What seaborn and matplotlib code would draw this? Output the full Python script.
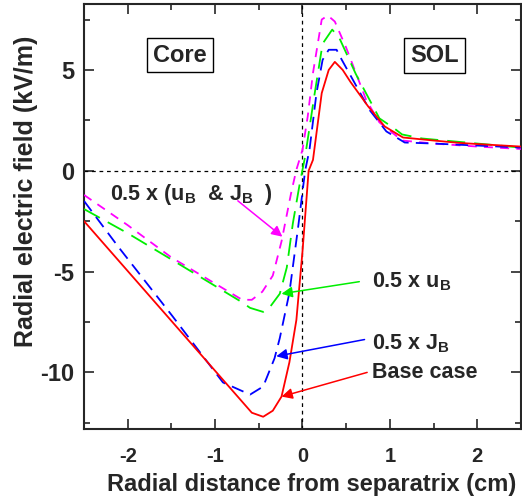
import matplotlib
matplotlib.use("Agg")
import matplotlib.pyplot as plt
import seaborn as sns
import pandas as pd
from matplotlib.ticker import MultipleLocator

# ---- data ----
base_x = [-2.5, -0.58, -0.45, -0.34, -0.24, -0.15, -0.07, 0.0, 0.07, 0.12, 0.22, 0.30, 0.37, 0.46, 0.55, 0.75, 0.94, 1.15, 1.5, 1.8, 2.1, 2.5]
base_y = [-2.5, -12.0, -12.2, -11.9, -11.2, -9.5, -7.4, -4.0, 0.0, 0.54, 3.85, 5.0, 5.4, 5.0, 4.4, 3.2, 2.2, 1.65, 1.5, 1.38, 1.3, 1.2]

jb_x = [-2.5, -2.11, -1.49, -0.91, -0.6, -0.45, -0.32, -0.26, -0.15, -0.05, 0.03, 0.08, 0.16, 0.23, 0.3, 0.39, 0.45, 0.77, 0.96, 1.17, 1.5, 2.0, 2.5]
jb_y = [-1.5, -3.76, -7.2, -10.5, -11.1, -10.7, -9.3, -8.3, -6.05, -2.8, 0.0, 1.04, 3.85, 5.5, 6.0, 6.0, 5.5, 3.0, 1.95, 1.4, 1.35, 1.25, 1.15]

ub_x = [-2.5, -2.0, -1.5, -0.7, -0.6, -0.45, -0.38, -0.26, -0.18, -0.11, -0.03, 0.03, 0.14, 0.23, 0.34, 0.42, 0.61, 0.88, 1.05, 1.14, 1.37, 2.0, 2.5]
ub_y = [-1.9, -3.1, -4.4, -6.5, -6.8, -7.0, -6.8, -6.1, -4.8, -2.6, -0.6, 0.7, 3.85, 6.3, 7.0, 6.6, 4.8, 2.6, 2.1, 1.8, 1.6, 1.35, 1.15]

both_x = [-2.5, -2.0, -1.5, -0.69, -0.58, -0.46, -0.34, -0.24, -0.13, -0.07, 0.0, 0.06, 0.12, 0.22, 0.29, 0.37, 0.5, 0.73, 0.88, 1.14, 1.5, 2.0, 2.5]
both_y = [-1.2, -2.7, -4.3, -6.4, -6.4, -6.0, -5.2, -3.5, -1.1, 0.05, 1.04, 2.7, 4.85, 7.5, 7.7, 7.4, 6.1, 3.5, 2.4, 1.5, 1.35, 1.2, 1.08]

sns.set_style("ticks")
plt.rcParams["font.family"] = ["Liberation Sans", "DejaVu Sans"]
plt.rcParams["font.weight"] = "bold"
plt.rcParams["axes.unicode_minus"] = False
plt.rcParams["mathtext.fontset"] = "custom"
plt.rcParams["mathtext.bf"] = "Liberation Sans:bold"
plt.rcParams["mathtext.rm"] = "Liberation Sans:bold"
plt.rcParams["mathtext.default"] = "bf"

fig = plt.figure(figsize=(5.22, 5.01), dpi=100)
ax = fig.add_axes([0.161, 0.144, 0.837, 0.848])

# reference lines
ax.axhline(0, color="black", lw=0.9, ls=(0, (3, 3)), zorder=1)
ax.axvline(0, color="black", lw=0.9, ls=(0, (3, 3)), zorder=1)

series = [
    (both_x, both_y, "#ff00ff", (0, (5, 4))),
    (ub_x, ub_y, "#00ee00", (0, (10, 5))),
    (jb_x, jb_y, "#0000ff", (0, (7, 4))),
    (base_x, base_y, "#ff0000", "-"),
]
for xs, ys, col, ls in series:
    df = pd.DataFrame({"x": xs, "y": ys})
    sns.lineplot(data=df, x="x", y="y", color=col, lw=1.3, ax=ax,
                 sort=False, estimator=None, linestyle=ls, zorder=3)

ax.set_xlim(-2.5, 2.5)
ax.set_ylim(-12.8, 8.27)
ax.xaxis.set_major_locator(MultipleLocator(1))
ax.xaxis.set_minor_locator(MultipleLocator(0.5))
ax.yaxis.set_major_locator(MultipleLocator(5))
ax.yaxis.set_minor_locator(MultipleLocator(2.5))
ax.tick_params(which="both", direction="in", top=True, right=True, width=1.2)
ax.tick_params(which="major", length=7)
ax.tick_params(which="minor", length=4)
ax.tick_params(axis="x", labelsize=14.5, pad=13)
ax.tick_params(axis="y", labelsize=17, pad=7)
for s in ax.spines.values():
    s.set_linewidth(1.5)

ax.set_xlabel("Radial distance from separatrix (cm)", fontsize=17, fontweight="bold")
ax.xaxis.set_label_coords(0.522, -0.104)
ax.set_ylabel("Radial electric field (kV/m)", fontsize=18, fontweight="bold")
ax.yaxis.set_label_coords(-0.105, 0.56)

box = dict(boxstyle="square,pad=0.25", fc="white", ec="black", lw=1.0)
ax.text(-1.40, 5.74, "Core", fontsize=17, fontweight="bold", ha="center", va="center", bbox=box)
ax.text(1.51, 5.7, "SOL", fontsize=17, fontweight="bold", ha="center", va="center", bbox=box)

def arrow(txt, tx, ty, sx, sy, ex, ey, col):
    ax.text(tx, ty, txt, fontsize=15.5, fontweight="bold", ha="left", va="center")
    ax.annotate("", xy=(ex, ey), xytext=(sx, sy),
                arrowprops=dict(arrowstyle="-|>", color=col, lw=1.1, mutation_scale=16, shrinkA=0, shrinkB=0))

arrow(r"0.5 x (u$_{B}$  & J$_{B}$  )", -2.2, -1.2, -0.74, -1.49, -0.23, -3.27, "#ff00ff")
arrow(r"0.5 x u$_{B}$", 0.8, -5.5, 0.65, -5.5, -0.24, -6.1, "#00ee00")
arrow(r"0.5 x J$_{B}$", 0.8, -8.6, 0.71, -8.37, -0.3, -9.2, "#0000ff")
arrow("Base case", 0.8, -10.0, 0.74, -10.0, -0.24, -11.2, "#ff0000")

fig.savefig("out.png", dpi=100)
